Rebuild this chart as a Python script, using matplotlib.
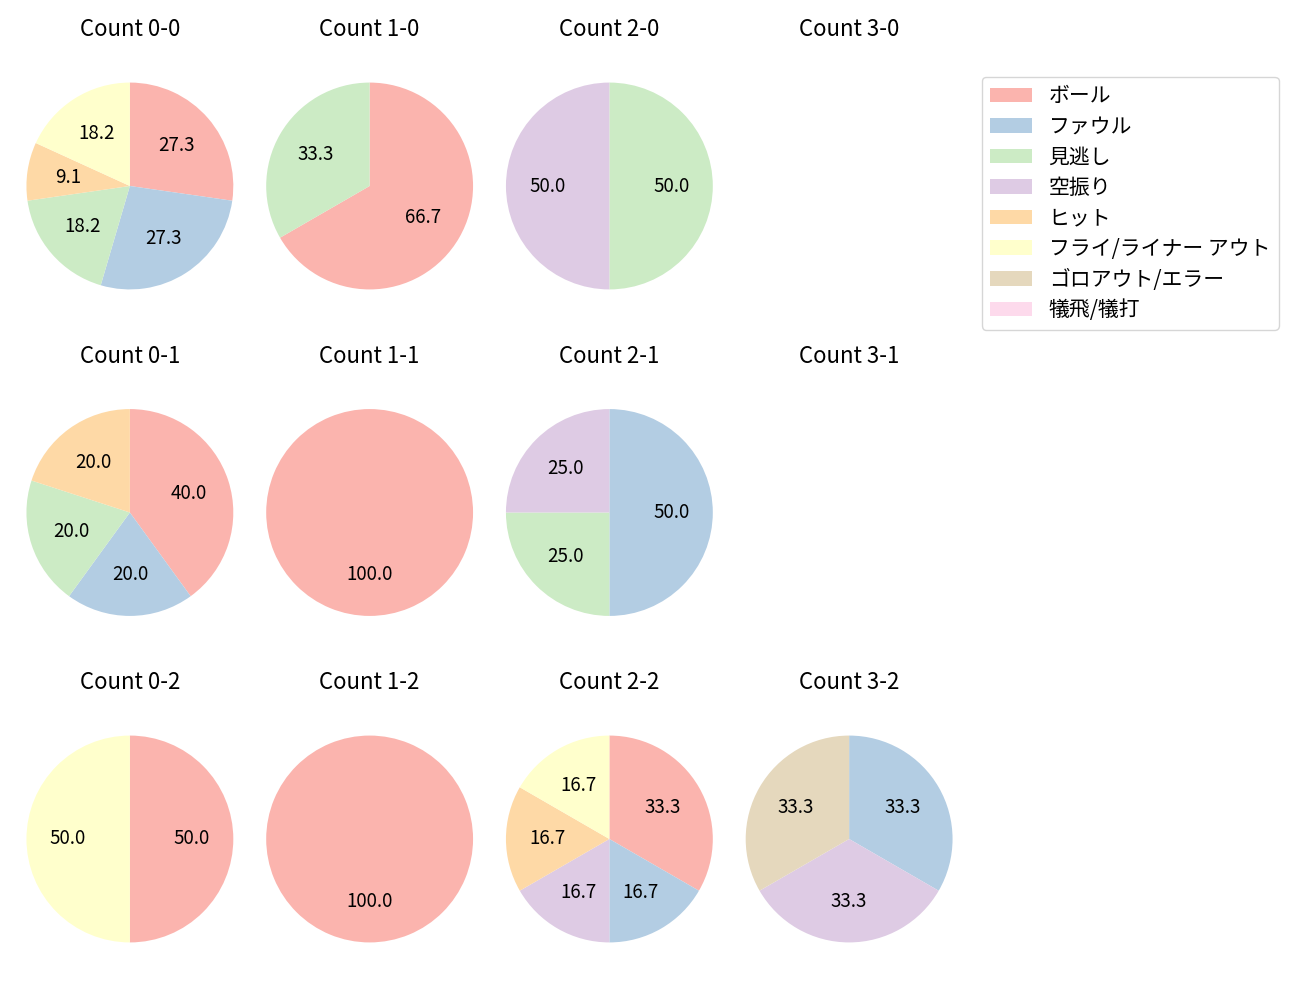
import matplotlib
matplotlib.use('Agg')
import matplotlib.pyplot as plt
from matplotlib.patches import Patch

plt.rcParams['font.family'] = ['Noto Sans CJK JP', 'DejaVu Sans']

categories = ['ボール', 'ファウル', '見逃し', '空振り', 'ヒット',
              'フライ/ライナー アウト', 'ゴロアウト/エラー', '犠飛/犠打']

# counts per category, keyed by (balls, strikes)
count_0_0 = [3, 3, 2, 0, 1, 2, 0, 0]
count_1_0 = [2, 0, 1, 0, 0, 0, 0, 0]
count_2_0 = [0, 0, 1, 1, 0, 0, 0, 0]
count_3_0 = [0, 0, 0, 0, 0, 0, 0, 0]
count_0_1 = [2, 1, 1, 0, 1, 0, 0, 0]
count_1_1 = [1, 0, 0, 0, 0, 0, 0, 0]
count_2_1 = [0, 2, 1, 1, 0, 0, 0, 0]
count_3_1 = [0, 0, 0, 0, 0, 0, 0, 0]
count_0_2 = [1, 0, 0, 0, 0, 1, 0, 0]
count_1_2 = [1, 0, 0, 0, 0, 0, 0, 0]
count_2_2 = [2, 1, 0, 1, 1, 1, 0, 0]
count_3_2 = [0, 1, 0, 1, 0, 0, 1, 0]

grid = [
    [count_0_0, count_1_0, count_2_0, count_3_0],
    [count_0_1, count_1_1, count_2_1, count_3_1],
    [count_0_2, count_1_2, count_2_2, count_3_2],
]

colors = list(plt.get_cmap('Pastel1').colors[:len(categories)])

fig, axes = plt.subplots(3, 4, figsize=(13, 10), dpi=100)
fig.subplots_adjust(left=10 / 1300, right=969 / 1300, top=0.957, bottom=0.018,
                    wspace=0, hspace=0.1416)

for s, row in enumerate(grid):
    for b, vals in enumerate(row):
        ax = axes[s][b]
        ax.set_title(f'Count {b}-{s}', fontsize=16, pad=5)
        nz = [(v, colors[i]) for i, v in enumerate(vals) if v > 0]
        if not nz:
            ax.axis('off')
            continue
        ax.pie([v for v, _ in nz], colors=[c for _, c in nz], startangle=90,
               counterclock=False, autopct='%.1f', textprops={'fontsize': 13.5})
        ax.set_aspect('equal', adjustable='datalim')
        ax.set_xlim(-1.159, 1.159)

handles = [Patch(facecolor=c) for c in colors]
fig.legend(handles, categories, loc='upper left',
           bbox_to_anchor=(982 / 1300, 1 - 77 / 1000), borderaxespad=0,
           fontsize=15, labelspacing=0.41)

fig.savefig('out.png', dpi=100)
